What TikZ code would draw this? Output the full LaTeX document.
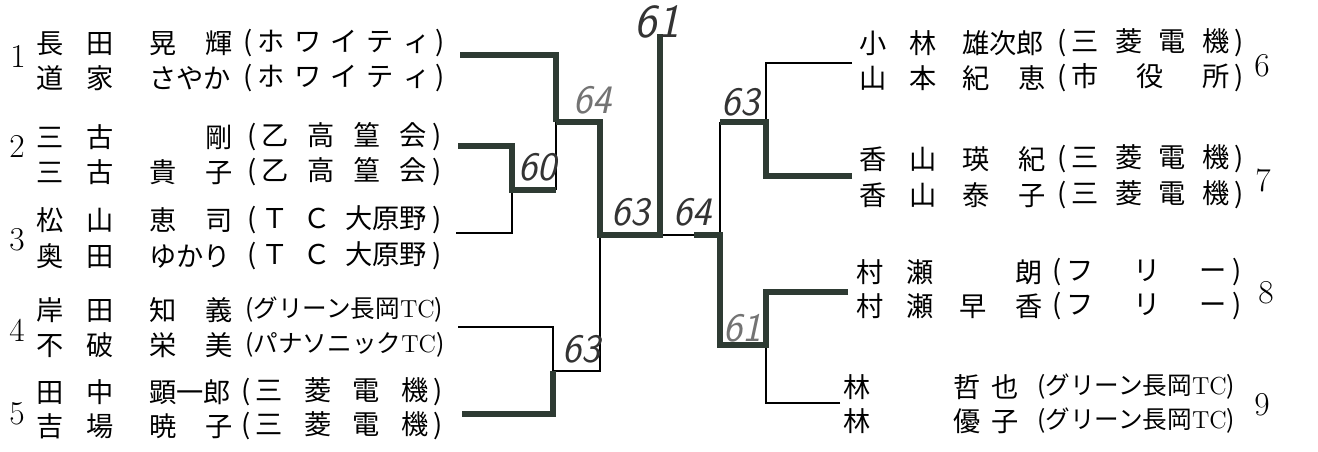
\documentclass[tikz,border=0pt]{standalone}
\usepackage{fontspec}
\newfontfamily\jp{Noto Sans CJK JP}
\definecolor{marker}{HTML}{2E3B33}
% name fields: surname, given name, club
\newcommand{\sei}[1]{\makebox[1.54cm][s]{#1}}
\newcommand{\mei}[1]{\makebox[1.66cm][s]{#1}}
\newcommand{\nm}[3][0.72cm]{\sei{#2}\hspace{#1}\mei{#3}}
\newcommand{\aff}[2]{(\hspace{3pt}\makebox[#1][s]{#2}\hspace{3pt})}
\newcommand{\club}[1]{{\fontsize{14pt}{16pt}\selectfont(#1{\rmfamily TC})}}
\tikzset{
  entry/.style={anchor=west, inner sep=0pt, font=\jp\fontsize{15.5pt}{18pt}\selectfont},
  seed/.style={inner sep=0pt, font=\fontsize{19pt}{22pt}\selectfont},
  lose/.style={draw=black, line width=1.2pt},
  win/.style={draw=marker, line width=3.2pt},
  score/.style={inner sep=0pt, text=black!80, font=\sffamily\itshape\fontsize{23pt}{26pt}\selectfont}
}
\begin{document}
\begin{tikzpicture}[x=0.02cm, y=-0.02cm]
  \path[fill=white] (0,0) rectangle (1318,452);
  % LEFT HALF
  \foreach \nd/\x/\y/\s/\ax/\a in {
    a1/36/43/{\nm{長\hfil 田}{晃\hfil 輝}}/243/{\aff{3.45cm}{ホ\hfil ワ\hfil イ\hfil テ\hfil ィ}},
    b1/36/78/{\nm{道\hfil 家}{さやか}}/243/{\aff{3.45cm}{ホ\hfil ワ\hfil イ\hfil テ\hfil ィ}},
    a2/36/137/{\nm{三\hfil 古}{\hfil 剛}}/247/{\aff{3.3cm}{乙\hfil 高\hfil 篁\hfil 会}},
    b2/36/172/{\nm{三\hfil 古}{貴\hfil 子}}/247/{\aff{3.3cm}{乙\hfil 高\hfil 篁\hfil 会}},
    a3/36/220/{\nm{松\hfil 山}{恵\hfil 司}}/247/{\aff{3.3cm}{Ｔ\hfil Ｃ\hfil 大原野}},
    b3/36/256/{\nm{奥\hfil 田}{ゆかり}}/247/{\aff{3.3cm}{Ｔ\hfil Ｃ\hfil 大原野}},
    a4/36/310/{\nm{岸\hfil 田}{知\hfil 義}}/245/{\club{グリーン長岡}},
    b4/36/345/{\nm{不\hfil 破}{栄\hfil 美}}/245/{\club{パナソニック}},
    a5/36/392/{\nm{田\hfil 中}{顕一郎}}/241/{\aff{3.45cm}{三\hfil 菱\hfil 電\hfil 機}},
    b5/36/426/{\nm{吉\hfil 場}{暁\hfil 子}}/241/{\aff{3.45cm}{三\hfil 菱\hfil 電\hfil 機}},
  % RIGHT HALF
    a6/859/43/{\nm[0.52cm]{小\hfil 林}{雄次郎}}/1057/{\aff{3.15cm}{三\hfil 菱\hfil 電\hfil 機}},
    b6/859/78/{\nm[0.52cm]{山\hfil 本}{紀\hfil 恵}}/1057/{\aff{3.15cm}{市\hfil 役\hfil 所}},
    a7/859/159/{\nm[0.52cm]{香\hfil 山}{瑛\hfil 紀}}/1057/{\aff{3.15cm}{三\hfil 菱\hfil 電\hfil 機}},
    b7/859/195/{\nm[0.52cm]{香\hfil 山}{泰\hfil 子}}/1057/{\aff{3.15cm}{三\hfil 菱\hfil 電\hfil 機}},
    a8/856/272/{\nm[0.52cm]{村\hfil 瀬}{\hfil 朗}}/1052/{\aff{3.2cm}{フ\hfil リ\hfil ー}},
    b8/856/306/{\nm[0.52cm]{村\hfil 瀬}{早\hfil 香}}/1052/{\aff{3.2cm}{フ\hfil リ\hfil ー}},
    a9/843/387/{\makebox[2.2cm][l]{林}\makebox[1.3cm][s]{哲\hfil 也}}/1037/{\club{グリーン長岡}},
    b9/843/421/{\makebox[2.2cm][l]{林}\makebox[1.3cm][s]{優\hfil 子}}/1037/{\club{グリーン長岡}}
  } {
    \node[entry] (\nd) at (\x,\y) {\s};
    \node[entry] (\nd-aff) at (\ax,\y) {\a};
  }
  % Seed numbers
  \foreach \i/\x/\y in {1/18/56, 2/17/146, 3/17/240, 4/17/330, 5/17/414,
                        6/1262/66, 7/1263/180, 8/1266/293, 9/1262/405}
    \node[seed] (n\i) at (\x,\y) {\i};
  % Bracket points
  \coordinate (p1) at (460,55);  \coordinate (p2) at (458,146);
  \coordinate (p3) at (456,233); \coordinate (p4) at (458,327);
  \coordinate (p5) at (462,414);
  \coordinate (p6) at (852,63);  \coordinate (p7) at (852,176);
  \coordinate (p8) at (848,292); \coordinate (p9) at (840,403);
  \coordinate (j23) at (512,190); \coordinate (j1) at (556,122);
  \coordinate (j45) at (553,371); \coordinate (js) at (600,235);
  \coordinate (jf) at (660,235);  \coordinate (top) at (660,34);
  \coordinate (j67) at (766,122); \coordinate (j89) at (766,345);
  \coordinate (jr) at (720,235);  \coordinate (jm) at (694,235);
  % Losers
  \draw[lose] (p3) -| (j23);
  \draw[lose] (j23 -| j1) -- (j1);
  \draw[lose] (p4) -| (j45);
  \draw[lose] (j45) -- (j45 -| js) -- (js);
  \draw[lose] (jf) -- (jr);
  \draw[lose] (p6) -| (j67);
  \draw[lose] (j67 -| jr) -- (jr);
  \draw[lose] (p9) -| (j89);
  % Winners
  \draw[win] (p1) -| (j1);
  \draw[win] (p2) -| (j23) -- (j23 -| j1);
  \draw[win] (j1) -| (js) -- (jf) -- (top);
  \draw[win] (p5) -| (j45);
  \draw[win] (p7) -| (j67) -- (j67 -| jr);
  \draw[win] (p8) -| (j89) -| (jr) -- (jm);
  % Scores
  \node[score, text=black!55] (s1) at (592,100) {64};
  \node[score] (s2) at (537,167) {60};
  \node[score] (s3) at (630,212) {63};
  \node[score] (s4) at (581,349) {63};
  \node[score, font=\sffamily\itshape\fontsize{27pt}{30pt}\selectfont] (s5) at (657,22) {61};
  \node[score] (s6) at (692,212) {64};
  \node[score] (s7) at (740,102) {63};
  \node[score, text=black!55] (s8) at (742,328) {61};
\end{tikzpicture}
\end{document}
